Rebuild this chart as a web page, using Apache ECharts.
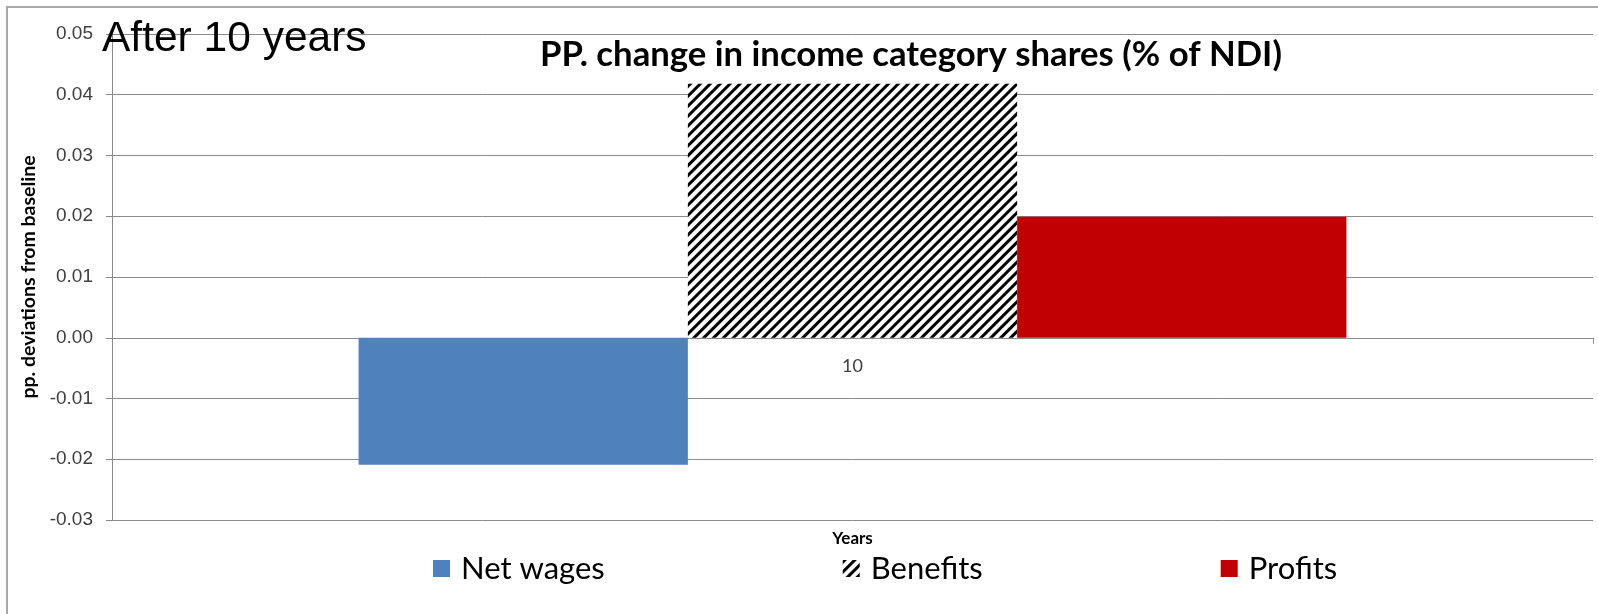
<!DOCTYPE html>
<html>
<head>
<meta charset="utf-8">
<script src="https://cdn.jsdelivr.net/npm/echarts@6/dist/echarts.min.js"></script>
<style>
  html, body { margin: 0; padding: 0; background: #fff; }
  #chart { width: 1598px; height: 614px; }
</style>
</head>
<body>
<div id="chart"></div>
<script>
const categories = ['10'];
const seriesNames = ['Net wages', 'Benefits', 'Profits'];
const netWages = [-0.0209];
const benefits = [0.0418];
const profits = [0.0199];
const yMin = -0.03, yMax = 0.05, yStep = 0.01;

const chart = echarts.init(document.getElementById('chart'), null, { renderer: 'canvas' });
const gridColor = '#8a8a8a';
const option = {
  backgroundColor: '#ffffff',
  animation: false,
  title: [{
    text: 'PP. change in income category shares (% of NDI)',
    left: 540, top: 37, padding: 0,
    textStyle: { fontFamily: 'Lato', fontWeight: 'bold', fontSize: 34.7, color: '#000' }
  }, {
    text: 'After 10 years',
    left: 102, top: 18, padding: 0,
    textStyle: { fontFamily: 'Liberation Sans', fontWeight: 'normal', fontSize: 42.5, color: '#000' }
  }],
  graphic: [{
    type: 'rect', silent: true, z: -1,
    shape: { x: 7, y: 7, width: 1700, height: 700 },
    style: { fill: 'none', stroke: '#8c8c8c', lineWidth: 1.5 }
  }],
  legend: {
    data: seriesNames,
    left: 428, top: 548,
    itemWidth: 17, itemHeight: 17, itemGap: 238,
    icon: 'rect',
    textStyle: { fontFamily: 'Lato', fontSize: 31, color: '#000', padding: [0, 0, 0, 6] }
  },
  grid: { left: 112, right: 5, top: 34, bottom: 94, containLabel: false, outerBoundsMode: 'none' },
  xAxis: {
    type: 'category', data: categories,
    name: 'Years', nameLocation: 'middle', nameGap: 10,
    nameTextStyle: { fontFamily: 'Lato', fontWeight: 'bold', fontSize: 17, color: '#000' },
    axisLine: { onZero: true, lineStyle: { color: gridColor, width: 1 } },
    axisTick: { show: true, length: 6, lineStyle: { color: gridColor } },
    axisLabel: { margin: -163, fontFamily: 'Lato', fontSize: 18, color: '#404040' },
    splitLine: { show: false }
  },
  yAxis: {
    type: 'value', min: yMin, max: yMax, interval: yStep,
    name: 'pp. deviations from baseline', nameLocation: 'middle', nameRotate: 90, nameGap: 72,
    nameTextStyle: { fontFamily: 'Lato', fontWeight: 'bold', fontSize: 19.5, color: '#000' },
    axisLine: { show: true, lineStyle: { color: gridColor, width: 1 } },
    axisTick: { show: true, length: 6, lineStyle: { color: gridColor } },
    axisLabel: {
      margin: 19, fontFamily: 'Liberation Sans', fontSize: 19, color: '#404040',
      formatter: v => v.toFixed(2)
    },
    splitLine: { show: true, lineStyle: { color: gridColor, width: 1 } }
  },
  series: [{
    name: seriesNames[0], type: 'bar', data: netWages,
    barGap: '0%', barCategoryGap: '33.3%',
    itemStyle: { color: '#4F81BD' }
  }, {
    name: seriesNames[1], type: 'bar', data: benefits,
    barGap: '0%', barCategoryGap: '33.3%',
    itemStyle: {
      color: '#ffffff',
      decal: { symbol: 'rect', symbolSize: 1, color: '#000000', dashArrayX: [1, 0], dashArrayY: [3, 4], rotation: -Math.PI / 4 }
    }
  }, {
    name: seriesNames[2], type: 'bar', data: profits,
    barGap: '0%', barCategoryGap: '33.3%',
    itemStyle: { color: '#C00000' }
  }]
};
chart.setOption(option);
</script>
</body>
</html>
